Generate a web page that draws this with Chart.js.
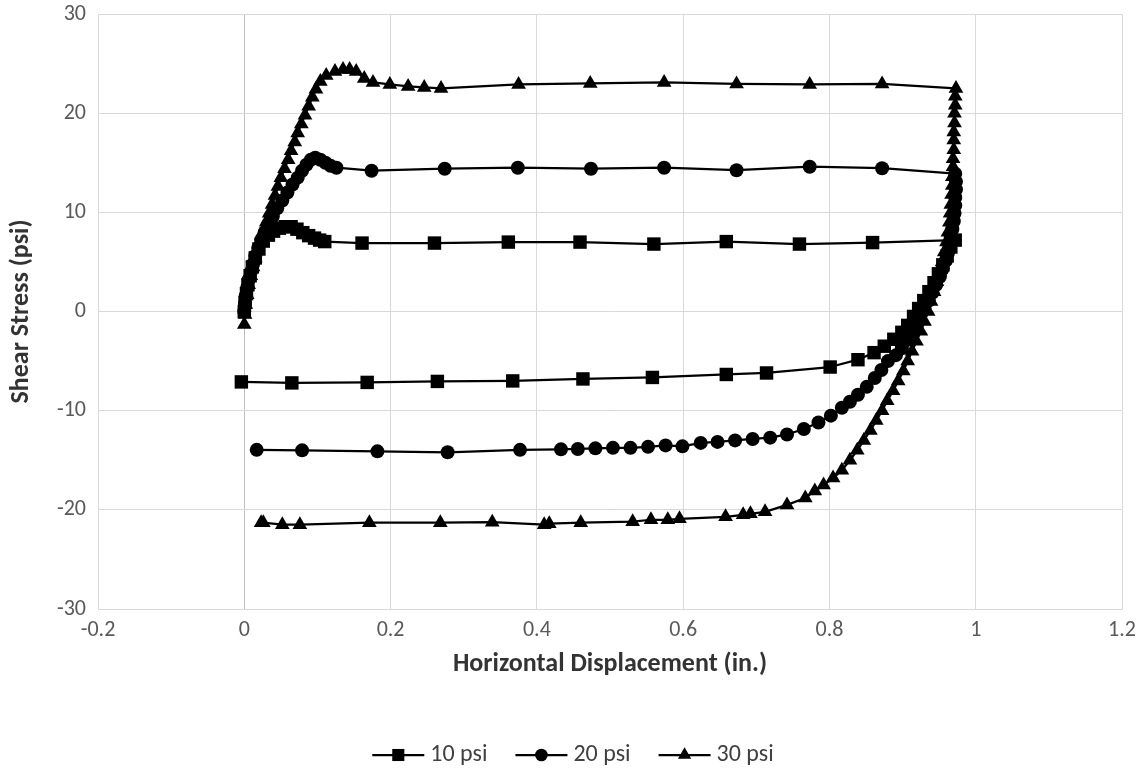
<!DOCTYPE html>
<html>
<head>
<meta charset="utf-8">
<script src="https://cdn.jsdelivr.net/npm/chart.js@4/dist/chart.umd.min.js"></script>
<style>
  html, body { margin: 0; padding: 0; background: #ffffff; }
  #wrap { width: 1146px; height: 772px; }
</style>
</head>
<body>
<div id="wrap"><canvas id="chart" width="1146" height="772"></canvas></div>
<script>
// Cyclic direct shear: shear stress vs horizontal displacement, three normal stresses.
const seriesNames = ['10 psi', '20 psi', '30 psi'];

// 10 psi: forward shear, then reversal back to the origin side
const psi10X = [0.000, 0.001, 0.003, 0.005, 0.008, 0.011, 0.015, 0.020, 0.026, 0.033, 0.040, 0.048, 0.056, 0.064, 0.072, 0.080, 0.088, 0.096, 0.103, 0.110,
  0.161, 0.260, 0.361, 0.459, 0.560, 0.659, 0.759, 0.859, 0.972,
  0.966, 0.961, 0.955, 0.949, 0.943, 0.936, 0.929, 0.922, 0.915, 0.907, 0.899, 0.888, 0.875, 0.861, 0.839, 0.801,
  0.714, 0.659, 0.558, 0.463, 0.367, 0.264, 0.168, 0.065, -0.004];
const psi10Y = [0.0, 0.9, 1.8, 2.7, 3.6, 4.5, 5.4, 6.3, 7.1, 7.7, 8.1, 8.4, 8.55, 8.55, 8.3, 7.95, 7.65, 7.4, 7.2, 7.05,
  6.9, 6.9, 7.0, 7.0, 6.8, 7.05, 6.8, 6.95, 7.2,
  6.5, 5.6, 4.7, 3.8, 2.9, 2.0, 1.1, 0.3, -0.5, -1.4, -2.1, -2.8, -3.5, -4.15, -4.86, -5.6,
  -6.2, -6.35, -6.65, -6.8, -7.0, -7.05, -7.15, -7.2, -7.1];

// 20 psi
const psi20X = [0.000, 0.001, 0.002, 0.004, 0.006, 0.009, 0.012, 0.015, 0.019, 0.023, 0.028, 0.033, 0.039, 0.045, 0.052, 0.059, 0.066, 0.073, 0.079, 0.085, 0.091, 0.097, 0.104, 0.111, 0.118, 0.126,
  0.174, 0.274, 0.374, 0.474, 0.574, 0.673, 0.773, 0.872, 0.972,
  0.973, 0.973, 0.972, 0.972, 0.971, 0.970, 0.968, 0.966, 0.964, 0.962, 0.959, 0.955, 0.951, 0.946, 0.941, 0.936, 0.930, 0.924, 0.918, 0.912, 0.905, 0.899, 0.891,
  0.880, 0.871, 0.862, 0.851, 0.839, 0.828, 0.817, 0.802, 0.785, 0.765, 0.742, 0.719, 0.695, 0.671, 0.647, 0.624, 0.599, 0.576, 0.552, 0.528, 0.504, 0.480, 0.456, 0.433,
  0.377, 0.278, 0.182, 0.079, 0.017];
const psi20Y = [0.0, 0.8, 1.6, 2.4, 3.2, 4.0, 4.8, 5.6, 6.4, 7.2, 8.0, 8.8, 9.6, 10.4, 11.2, 12.0, 12.8, 13.5, 14.2, 14.8, 15.3, 15.5, 15.3, 15.0, 14.7, 14.5,
  14.2, 14.4, 14.5, 14.4, 14.5, 14.25, 14.6, 14.45, 13.9,
  13.1, 12.3, 11.5, 10.7, 9.9, 9.1, 8.3, 7.5, 6.7, 5.9, 5.1, 4.3, 3.5, 2.7, 1.9, 1.1, 0.3, -0.5, -1.3, -2.1, -2.9, -3.7, -4.4,
  -5.0, -5.9, -6.7, -7.6, -8.4, -9.1, -9.7, -10.5, -11.2, -11.85, -12.4, -12.72, -12.85, -13.0, -13.15, -13.25, -13.6, -13.5, -13.65, -13.75, -13.75, -13.8, -13.86, -13.9,
  -13.95, -14.2, -14.1, -14.0, -13.95];

// 30 psi
const psi30X = [0.000, 0.001, 0.002, 0.004, 0.006, 0.009, 0.012, 0.015, 0.018, 0.022, 0.026, 0.030, 0.034, 0.038, 0.042, 0.046, 0.050, 0.055, 0.060, 0.064, 0.069, 0.073, 0.078, 0.083, 0.088, 0.093, 0.098, 0.104,
  0.112, 0.124, 0.135, 0.144, 0.153, 0.164, 0.176, 0.199, 0.224, 0.246, 0.269,
  0.375, 0.473, 0.574, 0.673, 0.773, 0.872, 0.973,
  0.972, 0.972, 0.971, 0.971, 0.970, 0.970, 0.970, 0.969, 0.969, 0.968, 0.968, 0.967, 0.966, 0.965, 0.964, 0.962, 0.960, 0.957, 0.954, 0.951, 0.947, 0.943, 0.939, 0.935,
  0.930, 0.925, 0.919, 0.913, 0.907, 0.901, 0.894, 0.887, 0.879, 0.872, 0.864, 0.856, 0.847, 0.838, 0.828, 0.817, 0.805, 0.792, 0.780, 0.767, 0.742,
  0.712, 0.692, 0.682, 0.658, 0.595, 0.579, 0.556, 0.531, 0.460, 0.417, 0.410, 0.339, 0.268, 0.171, 0.076, 0.052, 0.026, 0.023];
const psi30Y = [-1.3, -0.3, 0.7, 1.7, 2.7, 3.6, 4.5, 5.4, 6.3, 7.2, 8.1, 9.0, 9.9, 10.8, 11.7, 12.6, 13.5, 14.4, 15.3, 16.2, 17.1, 18.0, 18.9, 19.8, 20.7, 21.6, 22.4, 23.2,
  23.8, 24.2, 24.4, 24.4, 24.2, 23.5, 23.1, 22.9, 22.7, 22.6, 22.5,
  22.9, 23.0, 23.1, 22.95, 22.9, 22.95, 22.5,
  21.7, 20.8, 20.0, 19.0, 18.1, 17.3, 16.3, 15.4, 14.6, 13.6, 12.7, 11.8, 10.8, 9.9, 9.0, 8.0, 7.0, 6.0, 5.0, 4.0, 3.0, 2.0, 1.0, 0.0,
  -1.0, -2.0, -3.0, -4.0, -5.0, -6.0, -7.0, -8.0, -9.0, -10.0, -11.0, -12.0, -13.0, -14.0, -15.0, -16.0, -16.8, -17.5, -18.1, -18.8, -19.5,
  -20.2, -20.4, -20.5, -20.7, -20.9, -21.0, -21.0, -21.2, -21.3, -21.4, -21.5, -21.25, -21.3, -21.3, -21.5, -21.5, -21.3, -21.3];

const xTickLabels = ['-0.2', '0', '0.2', '0.4', '0.6', '0.8', '1', '1.2'];
const yTickLabels = ['-30', '-20', '-10', '0', '10', '20', '30'];

const xTitle = 'Horizontal Displacement (in.)';
const yTitle = 'Shear Stress (psi)';

const FONT = "Carlito, Calibri, Lato, sans-serif";

function pairs(xs, ys) {
  return xs.map((x, i) => ({ x: x, y: ys[i] }));
}

const markerStyles = ['rect', 'circle', 'triangle'];
const markerRadius = [9.5, 7, 8.5];

const datasets = [psi10X, psi20X, psi30X].map((xs, i) => ({
  label: seriesNames[i],
  data: pairs(xs, [psi10Y, psi20Y, psi30Y][i]),
  showLine: true,
  borderColor: '#000000',
  backgroundColor: '#000000',
  borderWidth: 2.25,
  pointStyle: markerStyles[i],
  pointRadius: markerRadius[i],
  pointBorderWidth: 0,
  pointBackgroundColor: '#000000',
  pointBorderColor: '#000000',
  tension: 0
}));

// Legend drawn as line + marker + label, centred under the plot
function drawMarker(ctx, style, x, y, r) {
  ctx.beginPath();
  if (style === 'rect') {
    const s = Math.SQRT1_2 * r;
    ctx.rect(x - s, y - s, 2 * s, 2 * s);
  } else if (style === 'circle') {
    ctx.arc(x, y, r, 0, Math.PI * 2);
  } else {
    for (let k = 0; k < 3; k++) {
      const a = k * 2 * Math.PI / 3;
      const px = x + Math.sin(a) * r, py = y - Math.cos(a) * r;
      if (k === 0) ctx.moveTo(px, py); else ctx.lineTo(px, py);
    }
    ctx.closePath();
  }
  ctx.fill();
}

const lineLegend = {
  id: 'lineLegend',
  afterDraw(chart) {
    const ctx = chart.ctx;
    const y = 755;
    const lineLen = 52, gap = 6, spacing = 28;
    ctx.save();
    ctx.font = '24px ' + FONT;
    const widths = seriesNames.map(n => ctx.measureText(n).width);
    const total = widths.reduce((a, w) => a + lineLen + gap + w, 0) + spacing * (seriesNames.length - 1);
    let x = (chart.width - total) / 2;
    seriesNames.forEach((name, i) => {
      ctx.strokeStyle = '#000000';
      ctx.fillStyle = '#000000';
      ctx.lineWidth = 2.25;
      ctx.beginPath();
      ctx.moveTo(x, y);
      ctx.lineTo(x + lineLen, y);
      ctx.stroke();
      drawMarker(ctx, markerStyles[i], x + lineLen / 2, y, markerRadius[i] * 0.9);
      ctx.fillStyle = '#404040';
      ctx.textBaseline = 'middle';
      ctx.textAlign = 'left';
      ctx.fillText(name, x + lineLen + gap, y);
      x += lineLen + gap + widths[i] + spacing;
    });
    ctx.restore();
  }
};

const gridColor = '#d9d9d9';

new Chart(document.getElementById('chart'), {
  type: 'scatter',
  data: { datasets: datasets },
  options: {
    responsive: false,
    animation: false,
    layout: { padding: { left: 0, right: 24, top: 14, bottom: 83 } },
    plugins: {
      legend: { display: false },
      tooltip: { enabled: false }
    },
    elements: { line: { borderJoinStyle: 'round' } },
    scales: {
      x: {
        type: 'linear',
        min: -0.2,
        max: 1.2,
        afterFit(scale) {
          scale.height = 80;
          scale.paddingLeft = 0;
          scale.paddingRight = 0;
        },
        afterBuildTicks(scale) {
          scale.ticks = xTickLabels.map(t => ({ value: parseFloat(t) }));
        },
        ticks: {
          stepSize: 0.2,
          padding: 8,
          color: '#595959',
          font: { family: FONT, size: 22 },
          callback: (v, i) => xTickLabels[i]
        },
        grid: {
          color: ctx => (ctx.tick && ctx.tick.value === 0 ? '#bfbfbf' : gridColor),
          lineWidth: 1,
          drawTicks: false
        },
        border: { display: true, color: gridColor },
        title: {
          display: true,
          text: xTitle,
          color: '#333333',
          font: { family: FONT, size: 26, weight: 'bold' },
          padding: { top: 4, bottom: 9 }
        }
      },
      y: {
        type: 'linear',
        min: -30,
        max: 30,
        afterFit(scale) {
          scale.width = 98;
          scale.paddingTop = 0;
          scale.paddingBottom = 0;
        },
        afterBuildTicks(scale) {
          scale.ticks = yTickLabels.map(t => ({ value: parseFloat(t) }));
        },
        ticks: {
          stepSize: 10,
          padding: 12,
          color: '#595959',
          font: { family: FONT, size: 22 },
          callback: (v, i) => yTickLabels[i]
        },
        grid: { color: gridColor, lineWidth: 1, drawTicks: false },
        border: { display: true, color: gridColor },
        title: {
          display: true,
          text: yTitle,
          color: '#333333',
          font: { family: FONT, size: 26, weight: 'bold' },
          padding: { top: 6, bottom: 0 }
        }
      }
    }
  },
  plugins: [lineLegend]
});
</script>
</body>
</html>
